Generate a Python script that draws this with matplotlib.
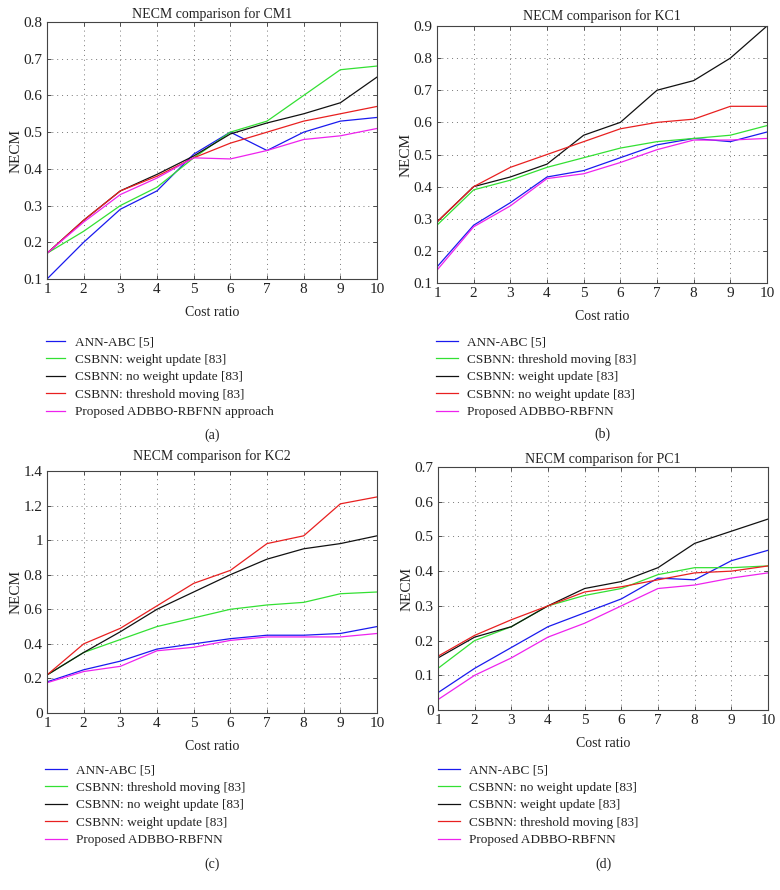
import matplotlib
matplotlib.use("Agg")
import matplotlib.pyplot as plt

plt.rcParams['font.family'] = ['Liberation Serif', 'DejaVu Serif']

cost_ratio = [1, 2, 3, 4, 5, 6, 7, 8, 9, 10]

# (a) CM1
cm1_labels = ["ANN-ABC [5]", "CSBNN: weight update [83]", "CSBNN: no weight update [83]",
              "CSBNN: threshold moving [83]", "Proposed ADBBO-RBFNN approach"]
cm1_ann = [0.10, 0.20, 0.29, 0.34, 0.44, 0.50, 0.45, 0.50, 0.53, 0.54]
cm1_wu = [0.17, 0.23, 0.30, 0.35, 0.43, 0.50, 0.53, 0.60, 0.67, 0.68]
cm1_nwu = [0.17, 0.26, 0.34, 0.385, 0.435, 0.495, 0.525, 0.55, 0.58, 0.65]
cm1_tm = [0.17, 0.26, 0.34, 0.38, 0.43, 0.47, 0.50, 0.53, 0.55, 0.57]
cm1_prop = [0.17, 0.255, 0.33, 0.375, 0.43, 0.427, 0.45, 0.48, 0.49, 0.51]

# (b) KC1
kc1_labels = ["ANN-ABC [5]", "CSBNN: threshold moving [83]", "CSBNN: weight update [83]",
              "CSBNN: no weight update [83]", "Proposed ADBBO-RBFNN"]
kc1_ann = [0.15, 0.28, 0.35, 0.43, 0.45, 0.49, 0.53, 0.55, 0.54, 0.57]
kc1_tm = [0.28, 0.39, 0.42, 0.46, 0.49, 0.52, 0.54, 0.55, 0.56, 0.59]
kc1_wu = [0.29, 0.40, 0.43, 0.47, 0.56, 0.60, 0.70, 0.73, 0.80, 0.90]
kc1_nwu = [0.29, 0.40, 0.46, 0.50, 0.54, 0.58, 0.60, 0.61, 0.65, 0.65]
kc1_prop = [0.14, 0.275, 0.34, 0.425, 0.44, 0.475, 0.515, 0.545, 0.545, 0.55]

# (c) KC2
kc2_labels = ["ANN-ABC [5]", "CSBNN: threshold moving [83]", "CSBNN: no weight update [83]",
              "CSBNN: weight update [83]", "Proposed ADBBO-RBFNN"]
kc2_ann = [0.18, 0.25, 0.30, 0.37, 0.40, 0.43, 0.45, 0.45, 0.46, 0.50]
kc2_tm = [0.22, 0.35, 0.425, 0.50, 0.55, 0.60, 0.625, 0.64, 0.69, 0.70]
kc2_nwu = [0.22, 0.35, 0.47, 0.60, 0.70, 0.80, 0.89, 0.95, 0.98, 1.025]
kc2_wu = [0.22, 0.40, 0.49, 0.62, 0.75, 0.825, 0.98, 1.025, 1.21, 1.25]
kc2_prop = [0.175, 0.24, 0.27, 0.36, 0.38, 0.42, 0.44, 0.44, 0.44, 0.46]

# (d) PC1
pc1_labels = ["ANN-ABC [5]", "CSBNN: no weight update [83]", "CSBNN: weight update [83]",
              "CSBNN: threshold moving [83]", "Proposed ADBBO-RBFNN"]
pc1_ann = [0.05, 0.12, 0.18, 0.24, 0.28, 0.32, 0.38, 0.375, 0.43, 0.46]
pc1_nwu = [0.12, 0.20, 0.24, 0.30, 0.33, 0.35, 0.39, 0.41, 0.41, 0.415]
pc1_wu = [0.15, 0.21, 0.24, 0.30, 0.35, 0.37, 0.41, 0.48, 0.515, 0.55]
pc1_tm = [0.155, 0.215, 0.26, 0.30, 0.34, 0.355, 0.375, 0.395, 0.40, 0.415]
pc1_prop = [0.03, 0.10, 0.15, 0.21, 0.25, 0.30, 0.35, 0.36, 0.38, 0.395]

colors = ['#1a1aee', '#33e033', '#111111', '#e82020', '#ee22ee']

W, H = 780, 890
fig = plt.figure(figsize=(W / 100, H / 100), dpi=100)


def px_axes(left, right, top, bottom):
    return fig.add_axes([left / W, (H - bottom) / H, (right - left) / W, (bottom - top) / H])


panels = [
    dict(box=(47, 377, 22, 279), title="NECM comparison for CM1", tpad=3,
         series=[cm1_ann, cm1_wu, cm1_nwu, cm1_tm, cm1_prop],
         labels=cm1_labels, ylim=(0.1, 0.8), yticks=[0.1, 0.2, 0.3, 0.4, 0.5, 0.6, 0.7, 0.8],
         ytl=["0.1", "0.2", "0.3", "0.4", "0.5", "0.6", "0.7", "0.8"],
         leg=(46, 336), hl=1.45, htp=0.75, tag="(a)", tagy=435),
    dict(box=(437, 767, 26, 283), title="NECM comparison for KC1", tpad=4.5,
         series=[kc1_ann, kc1_tm, kc1_wu, kc1_nwu, kc1_prop],
         labels=kc1_labels, ylim=(0.1, 0.9), yticks=[0.1, 0.2, 0.3, 0.4, 0.5, 0.6, 0.7, 0.8, 0.9],
         ytl=["0.1", "0.2", "0.3", "0.4", "0.5", "0.6", "0.7", "0.8", "0.9"],
         leg=(436, 336), hl=1.67, htp=0.68, tag="(b)", tagy=434),
    dict(box=(47, 377, 471, 713), title="NECM comparison for KC2", tpad=8,
         series=[kc2_ann, kc2_tm, kc2_nwu, kc2_wu, kc2_prop],
         labels=kc2_labels, ylim=(0, 1.4), yticks=[0, 0.2, 0.4, 0.6, 0.8, 1.0, 1.2, 1.4],
         ytl=["0", "0.2", "0.4", "0.6", "0.8", "1", "1.2", "1.4"],
         leg=(45, 764), hl=1.67, htp=0.68, tag="(c)", tagy=864),
    dict(box=(438, 768, 467, 710), title="NECM comparison for PC1", tpad=3,
         series=[pc1_ann, pc1_nwu, pc1_wu, pc1_tm, pc1_prop],
         labels=pc1_labels, ylim=(0, 0.7), yticks=[0, 0.1, 0.2, 0.3, 0.4, 0.5, 0.6, 0.7],
         ytl=["0", "0.1", "0.2", "0.3", "0.4", "0.5", "0.6", "0.7"],
         leg=(438, 764), hl=1.67, htp=0.68, tag="(d)", tagy=864),
]

for p in panels:
    l, r, t, b = p['box']
    ax = px_axes(l, r, t, b)
    handles = []
    for s, c, lab in zip(p['series'], colors, p['labels']):
        h, = ax.plot(cost_ratio, s, color=c, lw=0.9, label=lab)
        handles.append(h)
    ax.set_xlim(1, 10)
    ax.set_ylim(*p['ylim'])
    ax.set_xticks(cost_ratio)
    ax.set_xticklabels([str(v) for v in cost_ratio])
    ax.set_yticks(p['yticks'])
    ax.set_yticklabels(p['ytl'])
    ax.tick_params(direction='in', top=True, right=True, labelsize=11, length=3, width=0.6, colors='#333333',
                   labelcolor='#222222', pad=3)
    ax.grid(True, linestyle=(0, (1, 4)), color='#777777', lw=0.7)
    for sp in ax.spines.values():
        sp.set_color('#444444')
        sp.set_linewidth(0.8)
    ax.set_title(p['title'], fontsize=10, pad=p['tpad'], color='#222222')
    ax.set_xlabel("Cost ratio", fontsize=10, labelpad=7, color='#222222')
    ax.set_ylabel("NECM", fontsize=11, labelpad=1, color='#222222')
    lx, ly = p['leg']
    ax.legend(handles=handles, loc='upper left', bbox_to_anchor=(lx / W, (H - ly) / H),
              bbox_transform=fig.transFigure, frameon=False, fontsize=9.5, handlelength=p['hl'],
              handletextpad=p['htp'], labelspacing=0.4, borderpad=0, borderaxespad=0,
              labelcolor='#222222')
    fig.text((l + r) / 2 / W, (H - p['tagy']) / H, p['tag'], ha='center', va='center', fontsize=10,
             color='#222222')

fig.savefig("out.png", dpi=100)
